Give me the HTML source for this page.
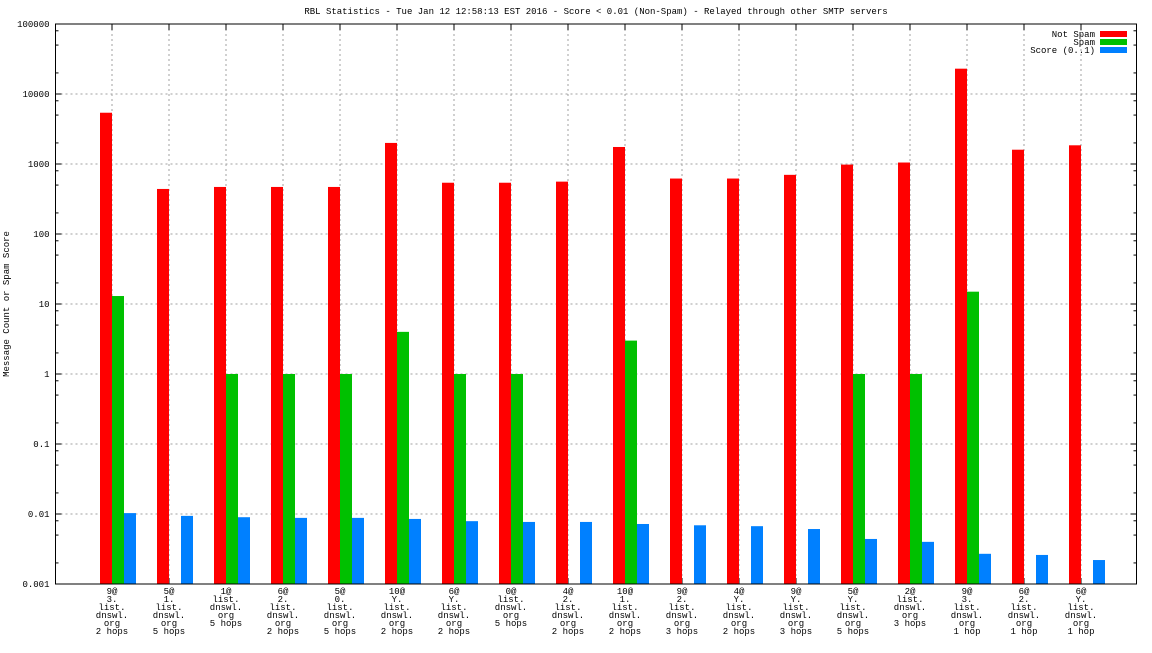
<!DOCTYPE html>
<html><head><meta charset="utf-8"><style>
html,body{margin:0;padding:0;background:#fff;}
svg text{font-family:"Liberation Mono",monospace;font-size:9px;fill:#000;}
</style></head><body>
<svg id="c" width="1152" height="648" xmlns="http://www.w3.org/2000/svg"></svg>
<script>
const categories=[["9@","3.","list.","dnswl.","org","2 hops"],["5@","1.","list.","dnswl.","org","5 hops"],["1@","list.","dnswl.","org","5 hops"],["6@","2.","list.","dnswl.","org","2 hops"],["5@","0.","list.","dnswl.","org","5 hops"],["10@","Y.","list.","dnswl.","org","2 hops"],["6@","Y.","list.","dnswl.","org","2 hops"],["0@","list.","dnswl.","org","5 hops"],["4@","2.","list.","dnswl.","org","2 hops"],["10@","1.","list.","dnswl.","org","2 hops"],["9@","2.","list.","dnswl.","org","3 hops"],["4@","Y.","list.","dnswl.","org","2 hops"],["9@","Y.","list.","dnswl.","org","3 hops"],["5@","Y.","list.","dnswl.","org","5 hops"],["2@","list.","dnswl.","org","3 hops"],["9@","3.","list.","dnswl.","org","1 hop"],["6@","2.","list.","dnswl.","org","1 hop"],["6@","Y.","list.","dnswl.","org","1 hop"]];
const notSpam=[5400,440,470,470,470,2000,540,540,560,1750,620,620,700,980,1050,23000,1600,1850];
const spam=[13,0,1,1,1,4,1,1,0,3,0,0,0,1,1,15,0,0];
const score=[0.0103,0.0094,0.009,0.0088,0.0088,0.0085,0.0079,0.0077,0.0077,0.0072,0.0069,0.0067,0.0061,0.0044,0.004,0.0027,0.0026,0.0022];
const yTicks=["0.001","0.01","0.1","1","10","100","1000","10000","100000"];
const seriesNames=["Not Spam","Spam","Score (0..1)"];
const colors=["#ff0000","#00c000","#0080ff"];
const svg=document.getElementById('c');
const NS="http://www.w3.org/2000/svg";
const L=55.5,R=1136.5,T=24,B=584;
function y(v){return B-70*(Math.log10(v)+3);}
function xc(i){return 112+57*i;}
function mk(t,a,p){const e=document.createElementNS(NS,t);for(const k in a)e.setAttribute(k,a[k]);(p||svg).appendChild(e);return e;}
// grid
yTicks.forEach((t,k)=>{const v=parseFloat(t);const yy=y(v);
 if(k>0&&k<yTicks.length-1){const g=mk('line',{x1:L,x2:R,y1:yy,y2:yy,stroke:'#a0a0a0','stroke-dasharray':'2,3'});
 
 }
 const tx=mk('text',{x:L-6,y:yy+3,'text-anchor':'end'});tx.textContent=t;
 
 
 mk('line',{x1:L,x2:L+6,y1:yy,y2:yy,stroke:'#000'});mk('line',{x1:R,x2:R-6,y1:yy,y2:yy,stroke:'#000'});
 if(k<yTicks.length-1)[2,5,8].forEach(m=>{const my=y(v*m);mk('line',{x1:L,x2:L+3,y1:my,y2:my,stroke:'#000'});mk('line',{x1:R,x2:R-3,y1:my,y2:my,stroke:'#000'});});
});
categories.forEach((c,i)=>{const x=xc(i);
 const g=mk('line',{x1:x,x2:x,y1:T,y2:B,stroke:'#a0a0a0','stroke-dasharray':'2,3'});
 
 
 mk('line',{x1:x,x2:x,y1:T,y2:T+6,stroke:'#000'});mk('line',{x1:x,x2:x,y1:B,y2:B-6,stroke:'#000'});
 const tx=mk('text',{x:x,y:594,'text-anchor':'middle'});
 
 
 c.forEach((ln,j)=>{const s=mk('tspan',{x:x,dy:j?8:0},tx);s.textContent=ln;});
 [notSpam,spam,score].forEach((arr,s)=>{const v=arr[i];if(!(v>0))return;
  const r=mk('rect',{x:x-12+12*s,y:y(v),width:12,height:B-y(v),fill:colors[s]});
  
  });
});
const fr=mk('rect',{x:L,y:T,width:R-L,height:B-T,fill:'none',stroke:'#000'});


const ti=mk('text',{x:596,y:14,'text-anchor':'middle'});ti.textContent="RBL Statistics - Tue Jan 12 12:58:13 EST 2016 - Score < 0.01 (Non-Spam) - Relayed through other SMTP servers";


const yl=mk('text',{x:0,y:0,'text-anchor':'middle',transform:'translate(9,304) rotate(-90)'});yl.textContent="Message Count or Spam Score";


seriesNames.forEach((n,s)=>{const yy=34+8*s;
 const t=mk('text',{x:1095,y:yy+3,'text-anchor':'end'});t.textContent=n;
 
 
 const r=mk('rect',{x:1100,y:yy-3,width:27,height:6,fill:colors[s]});
 
 });
</script>
</body></html>
